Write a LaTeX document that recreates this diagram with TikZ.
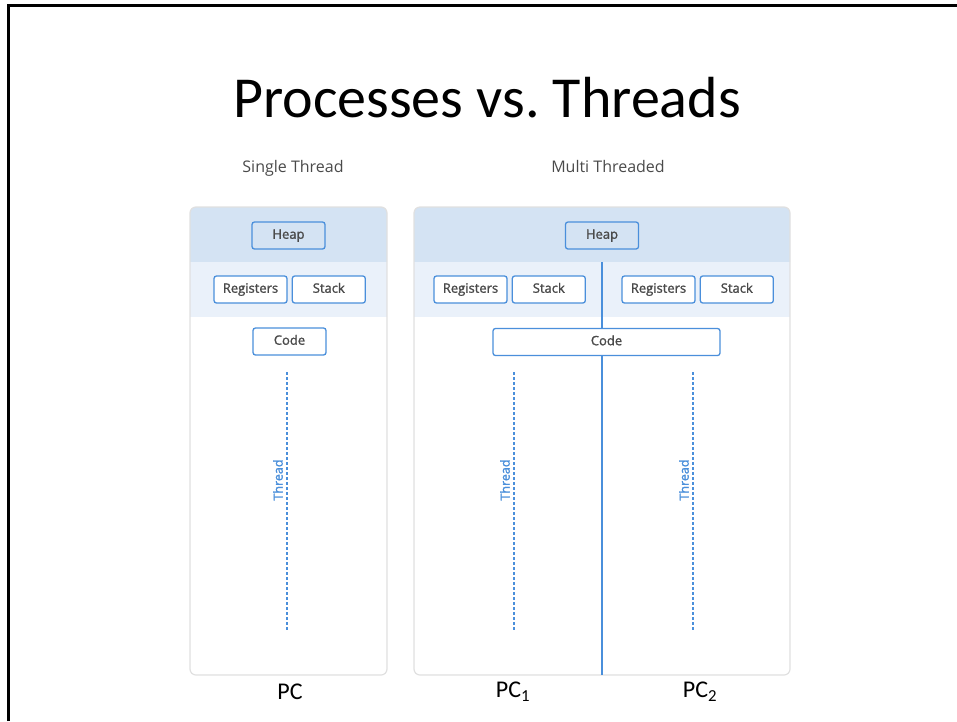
\documentclass[tikz,border=0pt]{standalone}
\usepackage{fontspec}
\setmainfont{Open Sans}
\newfontfamily\slidefont{Carlito}
\newfontfamily\boxfont[FakeBold=1.4]{Open Sans}
\usetikzlibrary{positioning}
\definecolor{heapband}{HTML}{D4E3F3}
\definecolor{regband}{HTML}{EAF1FA}
\definecolor{thrblue}{HTML}{4A8FDB}
\definecolor{panelgray}{HTML}{E0E0E0}
\definecolor{labelgray}{HTML}{4A4A4A}

\begin{document}
\begin{tikzpicture}[x=1pt,y=-1pt,
  panel/.style={draw=panelgray,line width=1.2pt,rounded corners=6pt},
  mem/.style={draw=thrblue,line width=1.3pt,rounded corners=2.5pt,minimum width=73pt,minimum height=27pt,inner sep=0pt,text height=9.5pt,text depth=3pt,font=\boxfont\fontsize{13}{15}\selectfont,text=labelgray},
  thr/.style={draw=thrblue,line width=1.3pt,dash pattern=on 2.5pt off 2.5pt},
  thrlabel/.style={rotate=90,text=thrblue,font=\boxfont\fontsize{12.5}{14}\selectfont,inner sep=1pt},
  pclabel/.style={font=\slidefont\fontsize{24}{28}\selectfont}]
\useasboundingbox (0,0) rectangle (957,721);
% slide frame
\draw[line width=3pt] (8,721) -- (8,5) -- (957,5);
\node[font=\slidefont\fontsize{58}{68}\selectfont,anchor=base] (title) at (487,117) {Processes vs.\ Threads};
\node[font=\fontsize{16}{18}\selectfont,text=labelgray,anchor=base] (single) at (293,172) {Single Thread};
\node[font=\fontsize{16}{18}\selectfont,text=labelgray,anchor=base] (multi) at (608,172) {Multi Threaded};

% single threaded process
\fill[white] (190,207) rectangle (387,675);
\fill[heapband] (190,262) [rounded corners=6pt]-- (190,207) -- (387,207) [sharp corners]-- (387,262) -- cycle;
\fill[regband] (190,262) rectangle (387,317);
\draw[panel] (190,207) rectangle (387,675);
\node[mem,fill=heapband] (heapA) at (288.5,235.5) {Heap};
\node[mem,fill=white] (regA) at (250.5,289.5) {Registers};
\node[mem,fill=white,right=4pt of regA] (stackA) {Stack};
\node[mem,fill=white] (codeA) at (289.5,341.5) {Code};
\coordinate (tA1) at (287,372);
\coordinate (tA2) at (287,630);
\draw[thr] (tA1) -- (tA2);
\node[thrlabel] (lblA) at (278,480) {Thread};
\node[pclabel] (pc) at (290,692) {PC};

% multi threaded process
\fill[white] (414,207) rectangle (790,675);
\fill[heapband] (414,262) [rounded corners=6pt]-- (414,207) -- (790,207) [sharp corners]-- (790,262) -- cycle;
\fill[regband] (414,262) rectangle (790,317);
\draw[panel] (414,207) rectangle (790,675);
\coordinate (split1) at (602,262);
\coordinate (split2) at (602,675);
\draw[thrblue,line width=1.5pt] (split1) -- (split2);
\node[mem,fill=heapband] (heapB) at (602,235.5) {Heap};
\node[mem,fill=white] (regB) at (470.5,289.5) {Registers};
\node[mem,fill=white,right=4pt of regB] (stackB) {Stack};
\node[mem,fill=white] (regC) at (658.5,289.5) {Registers};
\node[mem,fill=white,right=4pt of regC] (stackC) {Stack};
\node[mem,fill=white,minimum width=227pt] (codeB) at (606.5,342) {Code};
\coordinate (tB1) at (514,372);
\coordinate (tB2) at (514,630);
\draw[thr] (tB1) -- (tB2);
\node[thrlabel] (lblB) at (505,480) {Thread};
\coordinate (tC1) at (693,372);
\coordinate (tC2) at (693,630);
\draw[thr] (tC1) -- (tC2);
\node[thrlabel] (lblC) at (684,480) {Thread};
\node[pclabel] (pc1) at (513,692) {PC\textsubscript{1}};
\node[pclabel] (pc2) at (700,692) {PC\textsubscript{2}};
\end{tikzpicture}
\end{document}
